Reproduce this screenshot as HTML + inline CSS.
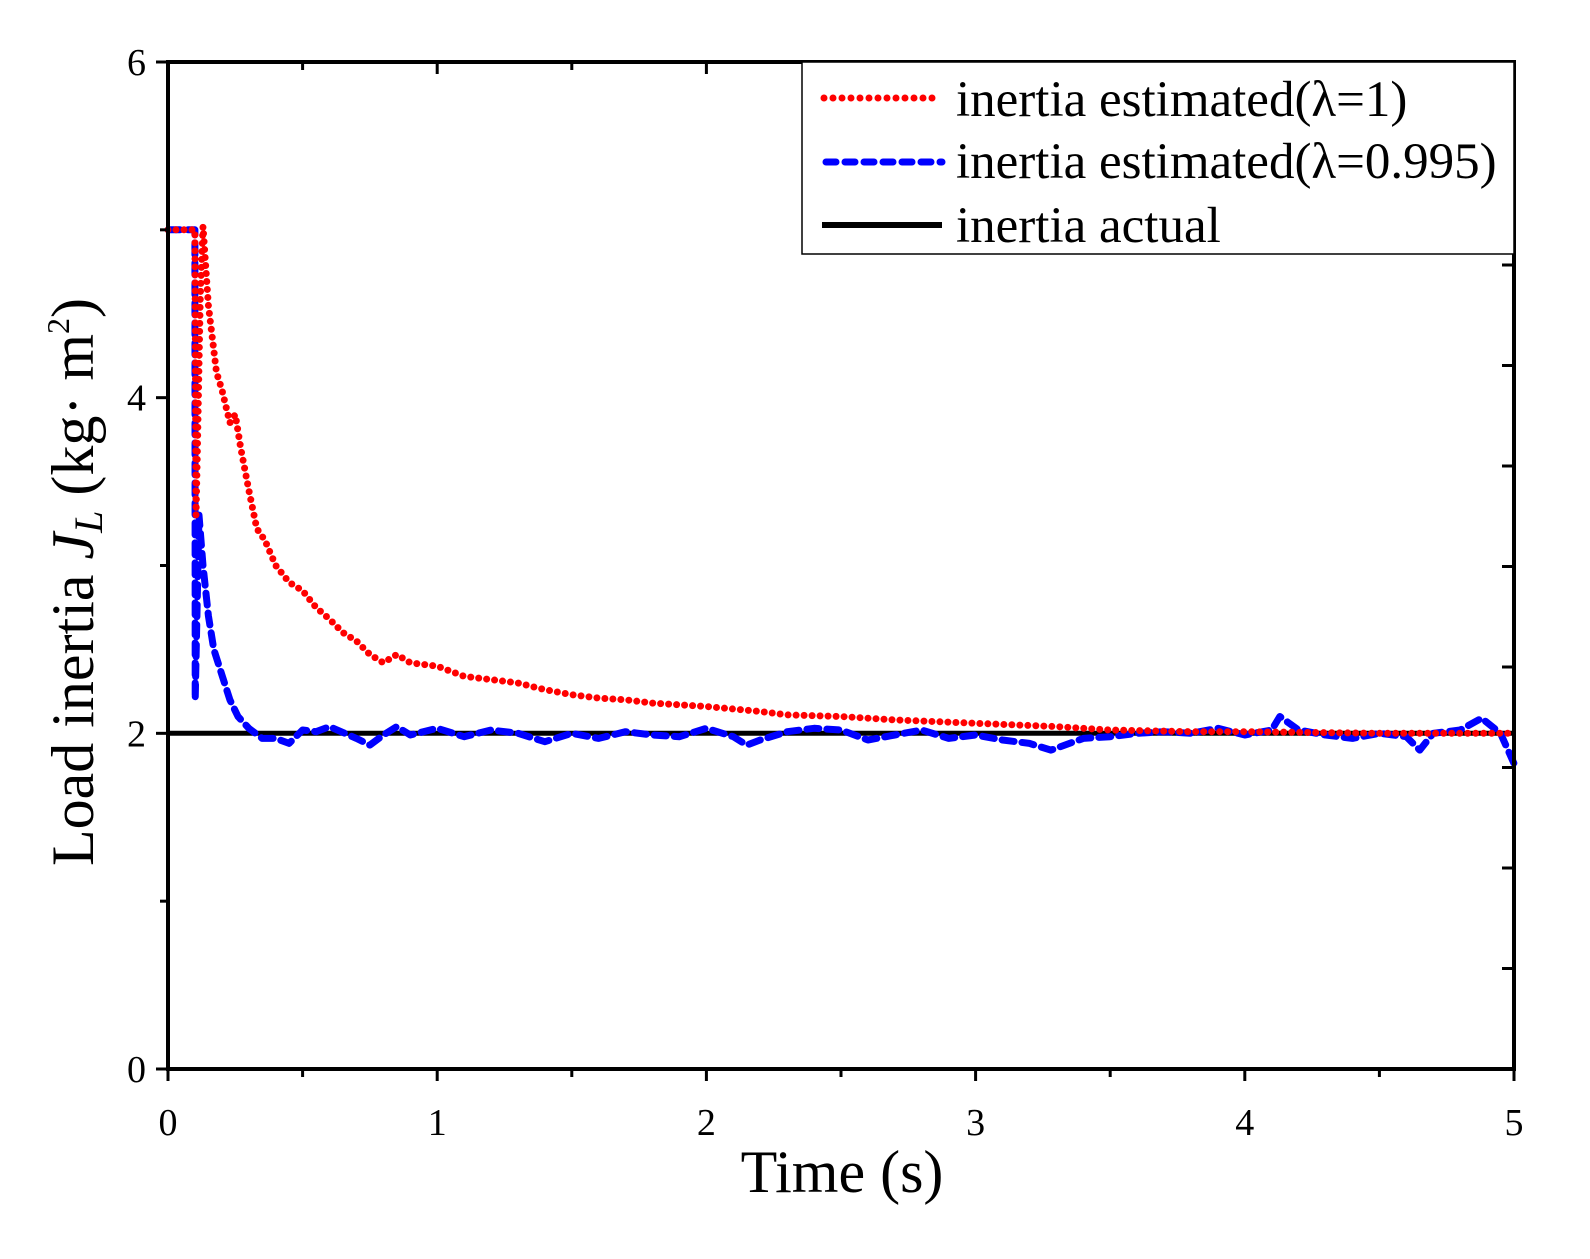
<!DOCTYPE html>
<html><head><meta charset="utf-8"><style>
body{margin:0;background:#fff}
svg{display:block;font-family:"Liberation Serif",serif}
</style></head><body>
<svg id="chart" width="1590" height="1259" viewBox="0 0 1590 1259">
<g id="marks"></g>
<g id="axes"></g>
<text x="842" y="1192" font-size="60" text-anchor="middle">Time (s)</text>
<text transform="translate(93,582) rotate(-90)" font-size="60" text-anchor="middle">Load inertia <tspan font-style="italic">J</tspan><tspan font-style="italic" font-size="40" dy="9">L</tspan><tspan dy="-9"> (kg· m</tspan><tspan font-size="32" dy="-24">2</tspan><tspan dy="24">)</tspan></text>
<g>
<rect x="802" y="62" width="712" height="192" fill="#fff" stroke="#000" stroke-width="1.5"/>
<line x1="824" y1="98" x2="934" y2="98" stroke="#f00" stroke-width="7" stroke-linecap="round" stroke-dasharray="0 9"/>
<text x="956" y="116" font-size="51">inertia estimated(λ=1)</text>
<line x1="826" y1="162" x2="942" y2="162" stroke="#00f" stroke-width="7" stroke-linecap="round" stroke-dasharray="10 9"/>
<text x="956" y="178" font-size="51">inertia estimated(λ=0.995)</text>
<line x1="822" y1="225" x2="942" y2="225" stroke="#000" stroke-width="6"/>
<text x="956" y="242" font-size="51">inertia actual</text>
</g>
</svg>
<script>
const redT=[0,0.1,0.104,0.108,0.12,0.13,0.15,0.18,0.2,0.23,0.25,0.27,0.3,0.33,0.36,0.4,0.45,0.5,0.55,0.6,0.65,0.7,0.75,0.8,0.85,0.9,1.0,1.1,1.2,1.3,1.4,1.5,1.6,1.7,1.8,2.0,2.2,2.3,2.5,2.7,3.0,3.3,3.5,3.8,4.0,4.5,5.0];
const redV=[5,5,3.3,3.6,4.6,5.02,4.55,4.15,4.05,3.85,3.9,3.7,3.45,3.22,3.15,3.0,2.9,2.85,2.75,2.68,2.6,2.55,2.47,2.42,2.47,2.42,2.4,2.34,2.32,2.3,2.26,2.23,2.21,2.2,2.18,2.16,2.13,2.11,2.1,2.08,2.06,2.04,2.02,2.01,2.01,2.0,2.0];
const blueT=[0,0.1,0.101,0.115,0.13,0.15,0.17,0.2,0.23,0.26,0.3,0.35,0.4,0.45,0.5,0.55,0.6,0.7,0.75,0.8,0.85,0.9,1.0,1.1,1.2,1.3,1.4,1.5,1.6,1.7,1.8,1.9,2.0,2.1,2.15,2.2,2.3,2.4,2.5,2.6,2.7,2.8,2.9,3.0,3.1,3.2,3.28,3.4,3.5,3.6,3.7,3.8,3.9,4.0,4.1,4.13,4.2,4.3,4.4,4.5,4.6,4.65,4.7,4.8,4.88,4.95,5.0];
const blueV=[5,5,2.2,3.3,3.0,2.7,2.5,2.35,2.2,2.1,2.03,1.97,1.97,1.94,2.02,2.01,2.04,1.97,1.93,1.99,2.04,1.99,2.03,1.98,2.02,2.0,1.95,2.0,1.97,2.01,1.99,1.98,2.03,1.98,1.93,1.96,2.01,2.03,2.02,1.96,1.99,2.02,1.97,1.99,1.96,1.94,1.9,1.97,1.98,2.0,2.01,2.0,2.03,1.99,2.02,2.1,2.02,1.99,1.97,2.0,1.98,1.9,2.0,2.02,2.09,2.0,1.82];
const actualT=[0,5];
const actualV=[2,2];
const xTicks=[0,1,2,3,4,5];
const yTicks=[0,2,4,6];
const NS="http://www.w3.org/2000/svg";
const X0=168,X1=1514,Y0=1069,Y1=62;
const sx=t=>X0+(X1-X0)*t/5;
const sy=v=>Y0-(Y0-Y1)*v/6;
function pathD(T,V){return T.map((t,i)=>(i?"L":"M")+sx(t).toFixed(1)+","+sy(V[i]).toFixed(1)).join("");}
const marks=document.getElementById("marks");
const axes=document.getElementById("axes");
function mk(tag,attrs,parent){const e=document.createElementNS(NS,tag);for(const k in attrs)e.setAttribute(k,attrs[k]);parent.appendChild(e);return e;}
let p=mk("path",{d:pathD(actualT,actualV),stroke:"#000","stroke-width":5,fill:"none"},marks);


p=mk("path",{d:pathD(blueT,blueV),stroke:"#00f","stroke-width":7,fill:"none","stroke-dasharray":"12 8","stroke-linecap":"round","stroke-linejoin":"round"},marks);


p=mk("path",{d:pathD(redT,redV),stroke:"#f00","stroke-width":7,fill:"none","stroke-dasharray":"0 8","stroke-linecap":"round"},marks);


let fr=mk("rect",{x:X0,y:Y1,width:X1-X0,height:Y0-Y1,fill:"none",stroke:"#000","stroke-width":4},axes);


for(let i=0;i<=10;i++){const t=i*0.5,x=sx(t),maj=i%2===0;
 mk("line",{x1:x,y1:Y0,x2:x,y2:Y0+(maj?12:8),stroke:"#000","stroke-width":3},axes);
 mk("line",{x1:x,y1:Y1,x2:x,y2:Y1+(maj?12:8),stroke:"#000","stroke-width":3},axes);}
for(let v=0;v<=6;v++){const y=sy(v);mk("line",{x1:X0,y1:y,x2:X0-(v%2?8:12),y2:y,stroke:"#000","stroke-width":3},axes);}
for(let y=Y0-100.5;y>Y1+150;y-=100.5){mk("line",{x1:X1,y1:y,x2:X1-12,y2:y,stroke:"#000","stroke-width":3},axes);}
xTicks.forEach(t=>{const e=mk("text",{x:sx(t),y:Y0+66,"font-size":38,"text-anchor":"middle"},axes);e.textContent=t;
 
 });
yTicks.forEach(v=>{const e=mk("text",{x:X0-22,y:sy(v)+13,"font-size":38,"text-anchor":"end"},axes);e.textContent=v;
 
 });
</script>
</body></html>
